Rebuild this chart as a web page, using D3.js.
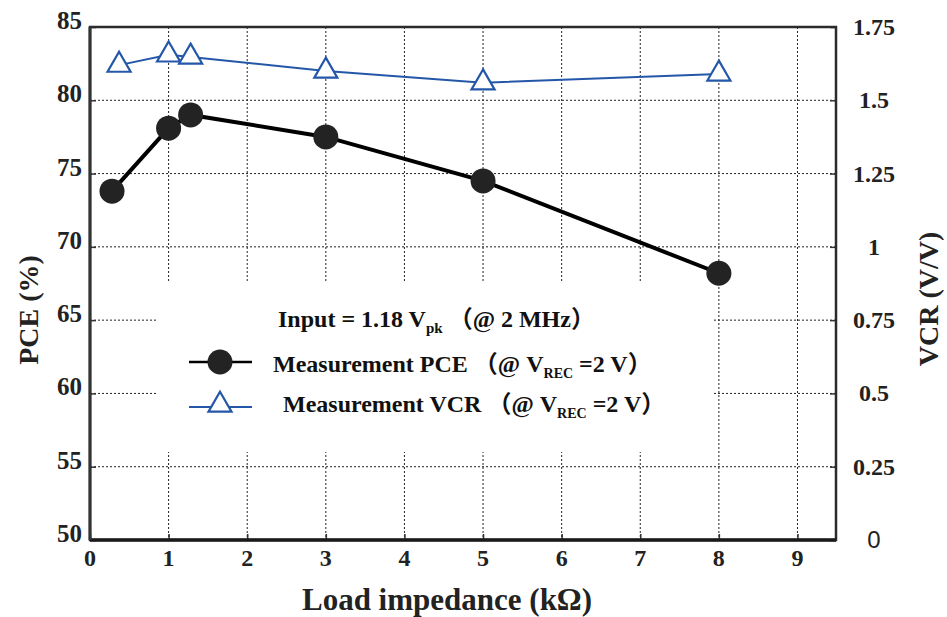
<!DOCTYPE html>
<meta charset="utf-8">
<head>
<style>
  * { margin: 0; padding: 0; }
  body { background: #fff; }
  svg { display: block; font-family: "Liberation Serif", "Noto Sans CJK SC", serif; font-weight: bold; }
  .grid line { stroke: #222; stroke-width: 1; stroke-dasharray: 2,2; }
</style>
</head>
<body>
<svg id="chart" width="947" height="617"></svg>
<script src="https://cdn.jsdelivr.net/npm/d3@7"></script>
<script>
// data
var pceLoad = [0.28, 1, 1.28, 3, 5, 8];
var pceVal  = [73.8, 78.1, 79.0, 77.5, 74.5, 68.2];
var vcrLoad = [0.37, 1, 1.28, 3, 5, 8];
var vcrVal  = [1.62, 1.655, 1.648, 1.60, 1.56, 1.59];
var xTicks = [0, 1, 2, 3, 4, 5, 6, 7, 8, 9];
var leftTicks = [50, 55, 60, 65, 70, 75, 80, 85];
var rightTicks = [0, 0.25, 0.5, 0.75, 1, 1.25, 1.5, 1.75];

var svg = d3.select("#chart");
var L = 90, R = 836, T = 27, B = 540;

var x = d3.scaleLinear().domain([0, 9.49]).range([L, R]);
var yL = d3.scaleLinear().domain([50, 85]).range([B, T]);
var yR = d3.scaleLinear().domain([0, 1.75]).range([B, T]);
var blue = "#2457a8";

// grid
var grid = svg.append("g").attr("class", "grid");
grid.selectAll(".v").data(xTicks.filter(function(d){ return d > 0; }))
  .enter().append("line")
  .attr("x1", function(d){ return x(d); }).attr("x2", function(d){ return x(d); })
  .attr("y1", T).attr("y2", B);
grid.selectAll(".h").data(leftTicks.filter(function(d){ return d > 50 && d < 85; }))
  .enter().append("line")
  .attr("x1", L).attr("x2", R)
  .attr("y1", function(d){ return yL(d); }).attr("y2", function(d){ return yL(d); });

// legend background covers the grid
svg.append("rect").attr("x", 157).attr("y", 283).attr("width", 556).attr("height", 169).attr("fill", "#fff");

// axes (inward ticks)
var axL = svg.append("g").attr("transform", "translate(" + L + ",0)")
  .call(d3.axisRight(yL).tickValues(leftTicks).tickSize(6).tickFormat(""));
var axR = svg.append("g").attr("transform", "translate(" + R + ",0)")
  .call(d3.axisLeft(yR).tickValues(rightTicks).tickSize(6).tickFormat(""));
var axB = svg.append("g").attr("transform", "translate(0," + B + ")")
  .call(d3.axisTop(x).tickValues(xTicks).tickSize(6).tickFormat(""));
[axL, axR, axB].forEach(function(a){
  a.select(".domain").remove();
  a.selectAll("line").attr("stroke", "#333").attr("stroke-width", 1.5);
});

// frame
svg.append("rect").attr("x", L).attr("y", T).attr("width", R - L).attr("height", B - T)
  .attr("fill", "none").attr("stroke", "#2b2b2b").attr("stroke-width", 2.5);
svg.append("line").attr("x1", L).attr("x2", R).attr("y1", B).attr("y2", B)
  .attr("stroke", "#1a1a1a").attr("stroke-width", 3.5);
svg.append("line").attr("x1", L).attr("x2", L).attr("y1", T).attr("y2", B)
  .attr("stroke", "#333").attr("stroke-width", 3);

// tick labels
svg.append("g").selectAll("text").data(leftTicks).enter().append("text")
  .attr("x", 82).attr("y", function(d){ return yL(d) + 2; })
  .attr("text-anchor", "end").attr("font-size", 25).attr("fill", "#222")
  .text(function(d){ return d; });
svg.append("g").selectAll("text").data(rightTicks).enter().append("text")
  .attr("x", 874).attr("y", function(d){ return yR(d) + 8; })
  .attr("text-anchor", "middle").attr("font-size", 24).attr("fill", "#222")
  .attr("font-family", function(d){ return d === 0 ? "Liberation Sans" : null; })
  .attr("font-weight", function(d){ return d === 0 ? "normal" : null; })
  .text(function(d){ return d; });
svg.append("g").selectAll("text").data(xTicks).enter().append("text")
  .attr("x", function(d){ return x(d); }).attr("y", 566)
  .attr("text-anchor", "middle").attr("font-size", 24).attr("fill", "#222")
  .text(function(d){ return d; });

// axis titles
svg.append("text").attr("x", 447).attr("y", 610).attr("text-anchor", "middle")
  .attr("font-size", 31).attr("fill", "#222").text("Load impedance (kΩ)");
svg.append("text").attr("transform", "translate(38,310) rotate(-90)").attr("text-anchor", "middle")
  .attr("font-size", 28).attr("fill", "#222").text("PCE (%)");
svg.append("text").attr("transform", "translate(938,299) rotate(-90)").attr("text-anchor", "middle")
  .attr("font-size", 28).attr("fill", "#222").text("VCR (V/V)");

// series
var pce = pceLoad.map(function(d, i){ return [d, pceVal[i]]; });
var vcr = vcrLoad.map(function(d, i){ return [d, vcrVal[i]]; });

svg.append("path").datum(vcr)
  .attr("d", d3.line().x(function(d){ return x(d[0]); }).y(function(d){ return yR(d[1]); }))
  .attr("fill", "none").attr("stroke", blue).attr("stroke-width", 2);
var tri = d3.symbol().type(d3.symbolTriangle).size(230);
svg.append("g").selectAll("path").data(vcr).enter().append("path")
  .attr("d", tri)
  .attr("transform", function(d){ return "translate(" + x(d[0]) + "," + yR(d[1]) + ")"; })
  .attr("fill", "#fff").attr("stroke", blue).attr("stroke-width", 2.2);

svg.append("path").datum(pce)
  .attr("d", d3.line().x(function(d){ return x(d[0]); }).y(function(d){ return yL(d[1]); }))
  .attr("fill", "none").attr("stroke", "#000").attr("stroke-width", 4);
svg.append("g").selectAll("circle").data(pce).enter().append("circle")
  .attr("cx", function(d){ return x(d[0]); }).attr("cy", function(d){ return yL(d[1]); })
  .attr("r", 12.5).attr("fill", "#232323");

// legend
var lg = svg.append("g").attr("fill", "#111");
var t1 = lg.append("text").attr("x", 278).attr("y", 327).attr("font-size", 24);
t1.append("tspan").text("Input = 1.18 V");
t1.append("tspan").attr("font-size", 15).attr("dy", 6).text("pk");
t1.append("tspan").attr("dy", -6).attr("dx", 6).text("（@ 2 MHz）");

lg.append("line").attr("x1", 189).attr("x2", 252).attr("y1", 362).attr("y2", 362)
  .attr("stroke", "#000").attr("stroke-width", 2.5);
lg.append("circle").attr("cx", 220).attr("cy", 362).attr("r", 12.5).attr("fill", "#232323");
var t2 = lg.append("text").attr("x", 273).attr("y", 372).attr("font-size", 24);
t2.append("tspan").text("Measurement PCE ");
t2.append("tspan").text("（@ V");
t2.append("tspan").attr("font-size", 14).attr("dy", 6).text("REC");
t2.append("tspan").attr("dy", -6).text(" =2 V）");

lg.append("line").attr("x1", 189).attr("x2", 252).attr("y1", 407).attr("y2", 407)
  .attr("stroke", blue).attr("stroke-width", 2);
lg.append("path").attr("d", tri).attr("transform", "translate(220,405)")
  .attr("fill", "#fff").attr("stroke", blue).attr("stroke-width", 2.2);
var t3 = lg.append("text").attr("x", 283).attr("y", 412).attr("font-size", 24);
t3.append("tspan").text("Measurement VCR ");
t3.append("tspan").text("（@ V");
t3.append("tspan").attr("font-size", 14).attr("dy", 6).text("REC");
t3.append("tspan").attr("dy", -6).text(" =2 V）");
</script>
</body>
